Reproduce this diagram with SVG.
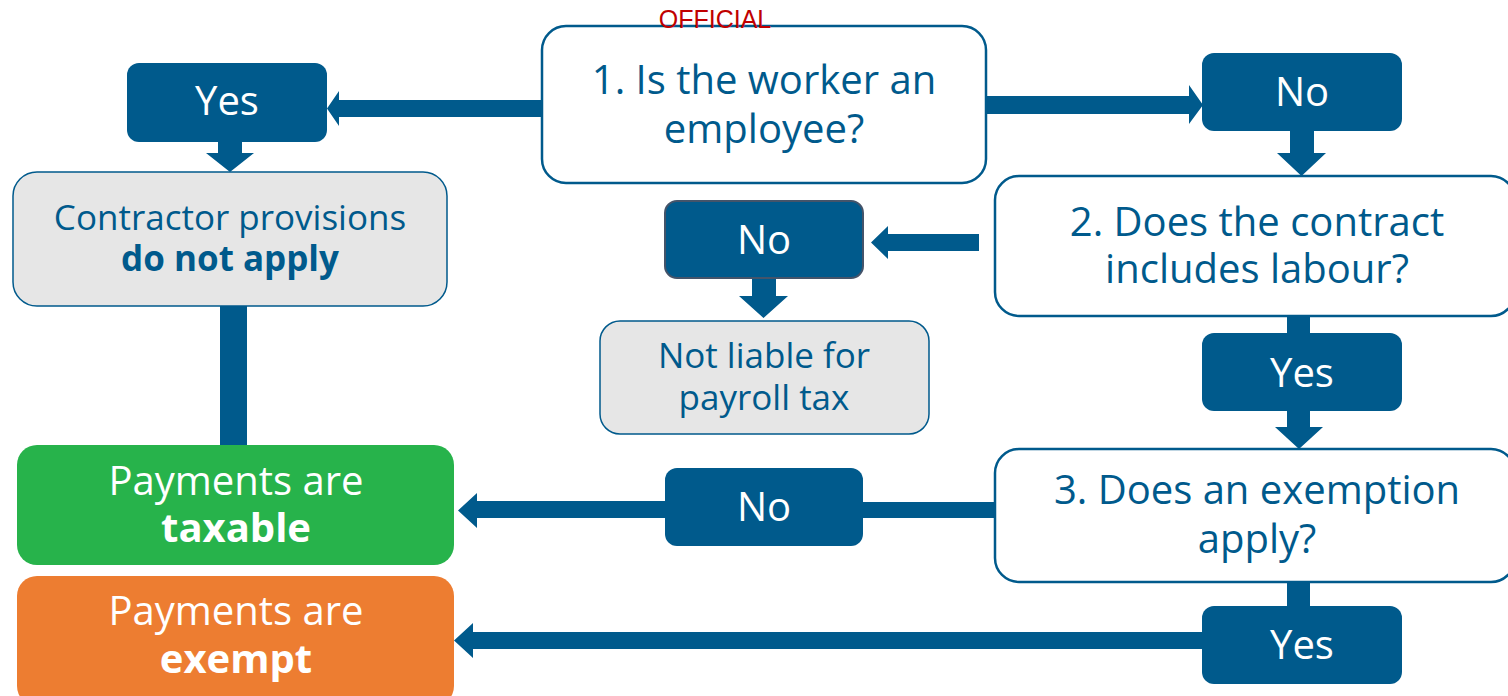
<svg xmlns="http://www.w3.org/2000/svg" width="1508" height="696" viewBox="0 0 1508 696">
<style>
text{font-family:"Open Sans","Noto Sans","Liberation Sans",sans-serif;text-anchor:middle}
.q{fill:#fff;stroke:#005a8c;stroke-width:2.5}
.g{fill:#e6e6e6;stroke:#005a8c;stroke-width:1.5}
.d{fill:#005a8c}
.c{fill:#005a8c}
.tb{fill:#005a8c;font-size:40px}
.tg{fill:#005a8c;font-size:35px}
.tw{fill:#fff;font-size:40px}
.b{font-weight:bold}
</style>
<rect width="1508" height="696" fill="#fff"/>
<g id="connectors">
<polygon class="c" points="542,100 339,100 339,91 327,108.5 339,126 339,117 542,117"/>
<polygon class="c" points="986,96 1189,96 1189,85 1203,105 1189,124 1189,114 986,114"/>
<polygon class="c" points="218,142 242,142 242,153 254,153 230,172 206,153 218,153"/>
<polygon class="c" points="1290,131 1314,131 1314,153 1326,153 1301.5,176 1277,153 1290,153"/>
<rect class="c" x="220" y="306" width="27" height="140"/>
<polygon class="c" points="979,234 888,234 888,226 871,242.5 888,259 888,251 979,251"/>
<polygon class="c" points="752,278 776,278 776,296 788,296 763.5,318 739,296 752,296"/>
<rect class="c" x="1287" y="316" width="23" height="18"/>
<polygon class="c" points="1287,410 1310,410 1310,427 1323,427 1299,449 1275,427 1287,427"/>
<rect class="c" x="862" y="502" width="135" height="16"/>
<polygon class="c" points="665,501 477,501 477,493 458,510.5 477,528 477,518 665,518"/>
<rect class="c" x="1287" y="582" width="23" height="25"/>
<polygon class="c" points="1203,632 473,632 473,623 454,640.5 473,658 473,649 1203,649"/>
</g>
<g id="q1">
<rect class="q" x="542" y="26" width="444" height="157" rx="24"/>
<text class="tb" x="764" y="94">1. Is the worker an</text>
<text class="tb" x="764" y="143">employee?</text>
</g>
<g id="official">
<text x="715" y="28" style="font-family:'Liberation Sans',Arial,sans-serif;font-size:25px;fill:#c00000">OFFICIAL</text>
</g>
<g id="yes1">
<rect class="d" x="127" y="63" width="200" height="79" rx="12"/>
<text class="tw" x="227" y="115">Yes</text>
</g>
<g id="no1">
<rect class="d" x="1202" y="53" width="200" height="78" rx="12"/>
<text class="tw" x="1302" y="106">No</text>
</g>
<g id="contractor">
<rect class="g" x="13" y="172" width="434" height="134" rx="24"/>
<text class="tg" x="230" y="230">Contractor provisions</text>
<text class="tg b" x="230" y="271">do not apply</text>
</g>
<g id="q2">
<rect class="q" x="995" y="176" width="520" height="140" rx="24"/>
<text class="tb" x="1257" y="236">2. Does the contract</text>
<text class="tb" x="1257" y="283">includes labour?</text>
</g>
<g id="no2">
<rect x="665" y="201" width="198" height="77" rx="12" fill="#005a8c" stroke="#44546a" stroke-width="2"/>
<text class="tw" x="764" y="254">No</text>
</g>
<g id="notliable">
<rect class="g" x="600" y="321" width="329" height="113" rx="20"/>
<text class="tg" x="764" y="368">Not liable for</text>
<text class="tg" x="764" y="410">payroll tax</text>
</g>
<g id="yes2">
<rect class="d" x="1202" y="333" width="200" height="78" rx="12"/>
<text class="tw" x="1302" y="387">Yes</text>
</g>
<g id="q3">
<rect class="q" x="995" y="449" width="520" height="133" rx="24"/>
<text class="tb" x="1257" y="504">3. Does an exemption</text>
<text class="tb" x="1257" y="553">apply?</text>
</g>
<g id="taxable">
<rect x="17" y="445" width="437" height="120" rx="20" fill="#27b34b"/>
<text class="tw" x="236" y="495">Payments are</text>
<text class="tw b" x="236" y="542">taxable</text>
</g>
<g id="no3">
<rect class="d" x="665" y="468" width="198" height="78" rx="12"/>
<text class="tw" x="764" y="521">No</text>
</g>
<g id="exempt">
<rect x="17" y="576" width="437" height="130" rx="20" fill="#ed7d31"/>
<text class="tw" x="236" y="625">Payments are</text>
<text class="tw b" x="236" y="673">exempt</text>
</g>
<g id="yes3">
<rect class="d" x="1202" y="606" width="200" height="78" rx="12"/>
<text class="tw" x="1302" y="659">Yes</text>
</g>
</svg>
